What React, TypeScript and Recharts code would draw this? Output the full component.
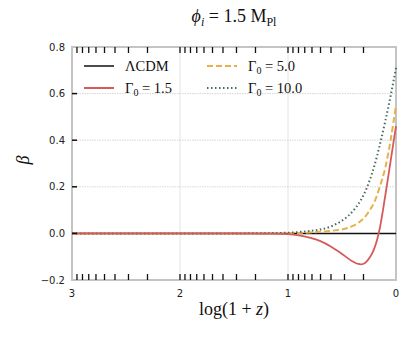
import React from "react";
import { LineChart, Line, XAxis, YAxis, ReferenceLine, ReferenceArea, Legend } from "recharts";

// log(1+z) sample points, right edge is today
const xs = [3, 2.5, 2, 1.5, 1.2, 1.0, 0.9, 0.8, 0.7, 0.6, 0.55, 0.5, 0.45, 0.4, 0.375, 0.35, 0.325, 0.3, 0.275, 0.25, 0.225, 0.2, 0.175, 0.15, 0.1, 0.05, 0];
const lcdm = [0, 0, 0, 0, 0, 0, 0, 0, 0, 0, 0, 0, 0, 0, 0, 0, 0, 0, 0, 0, 0, 0, 0, 0, 0, 0, 0];
const gamma15 = [0, 0, 0, 0, -0.001, -0.003, -0.008, -0.018, -0.033, -0.057, -0.072, -0.088, -0.105, -0.121, -0.127, -0.131, -0.133, -0.13, -0.122, -0.108, -0.089, -0.063, -0.027, 0.022, 0.16, 0.31, 0.46];
const gamma50 = [0, 0, 0, 0, 0, 0.001, 0.002, 0.004, 0.007, 0.011, 0.014, 0.017, 0.023, 0.032, 0.038, 0.045, 0.054, 0.064, 0.078, 0.095, 0.113, 0.135, 0.165, 0.2, 0.28, 0.4, 0.55];
const gamma100 = [0, 0, 0, 0, 0.001, 0.003, 0.006, 0.01, 0.017, 0.03, 0.041, 0.055, 0.072, 0.095, 0.109, 0.125, 0.143, 0.165, 0.19, 0.22, 0.253, 0.29, 0.333, 0.38, 0.48, 0.59, 0.71];

const majorTicks = [3, 2, 1, 0];
const minorTicks = [
  2.954, 2.903, 2.845, 2.778, 2.699, 2.602, 2.477, 2.301,
  1.954, 1.903, 1.845, 1.778, 1.699, 1.602, 1.477, 1.301,
  0.954, 0.903, 0.845, 0.778, 0.699, 0.602, 0.477, 0.301
];
const yTicks = [-0.2, 0, 0.2, 0.4, 0.6, 0.8];
const yInner = [0, 0.2, 0.4, 0.6];
const xGrid = [2, 1];
const yGrid = [0.2, 0.4, 0.6];

const data = xs.map((x, i) => ({
  x,
  lcdm: lcdm[i],
  g15: gamma15[i],
  g50: gamma50[i],
  g100: gamma100[i]
}));

const COLORS = { lcdm: "#111111", g15: "#d65a5a", g50: "#e8b04a", g100: "#4a6a62" };
const FRAME = "#c4c4c4";
const TICK_FONT = "'DejaVu Sans', sans-serif";
const SERIF = "'Liberation Serif', 'DejaVu Serif', serif";

const allXTicks = [...majorTicks, ...minorTicks];
const isInnerMajor = (v: number) => v === 2 || v === 1;

function BottomTick(p: any) {
  const v = p.payload.value;
  const major = majorTicks.includes(v);
  return (
    <g>
      {(!major || isInnerMajor(v)) && (
        <line x1={p.x} x2={p.x} y1={p.y} y2={p.y - 6} stroke="#111" strokeWidth={1.3} />
      )}
      {major && (
        <text x={p.x} y={p.y + 17} textAnchor="middle" fontSize={10} fontFamily={TICK_FONT} fill="#222">
          {v}
        </text>
      )}
    </g>
  );
}

function TopTick(p: any) {
  const v = p.payload.value;
  const major = majorTicks.includes(v);
  if (major && !isInnerMajor(v)) return <g />;
  return <line x1={p.x} x2={p.x} y1={p.y} y2={p.y + 6} stroke="#111" strokeWidth={1.3} />;
}

function LeftTick(p: any) {
  const v = p.payload.value;
  const label = v < 0 ? "\u2212" + Math.abs(v).toFixed(1) : v.toFixed(1);
  return (
    <g>
      {yInner.includes(v) && (
        <line x1={p.x} x2={p.x + 5} y1={p.y} y2={p.y} stroke="#111" strokeWidth={1.5} />
      )}
      <text x={p.x - 7} y={p.y + 3.5} textAnchor="end" fontSize={10} fontFamily={TICK_FONT} fill="#222">
        {label}
      </text>
    </g>
  );
}

function RightTick(p: any) {
  const v = p.payload.value;
  if (!yInner.includes(v)) return <g />;
  return <line x1={p.x} x2={p.x - 5} y1={p.y} y2={p.y} stroke="#111" strokeWidth={1.5} />;
}

const Gamma = ({ v }: { v: string }) => (
  <span>
    Γ<span style={{ fontSize: 10, position: "relative", top: 3 }}>0</span> = {v}
  </span>
);

const legendItems = [
  { key: "lcdm", label: <span>ΛCDM</span>, dash: undefined },
  { key: "g50", label: <Gamma v="5.0" />, dash: "6 3" },
  { key: "g15", label: <Gamma v="1.5" />, dash: undefined },
  { key: "g100", label: <Gamma v="10.0" />, dash: "1.5 2.5" }
];

function LegendBox() {
  return (
    <div style={{ display: "grid", gridTemplateColumns: "123px 120px", fontFamily: SERIF, fontSize: 14.5, color: "#111" }}>
      {legendItems.map((it) => (
        <div key={it.key} style={{ display: "flex", alignItems: "center", height: 22 }}>
          <svg width={30} height={6} style={{ marginRight: 11 }}>
            <line
              x1={0}
              x2={30}
              y1={3}
              y2={3}
              stroke={(COLORS as any)[it.key]}
              strokeWidth={it.key === "lcdm" ? 1.5 : 2}
              strokeDasharray={it.dash}
            />
          </svg>
          {it.label}
        </div>
      ))}
    </div>
  );
}

export default function App() {
  return (
    <div style={{ position: "absolute", left: 0, top: 0, width: 415, height: 338, background: "#fff" }}>
      <div
        style={{
          position: "absolute",
          left: 0,
          width: 468,
          top: 6,
          textAlign: "center",
          fontFamily: SERIF,
          fontSize: 18,
          color: "#111"
        }}
      >
        <i>ϕ</i>
        <i style={{ fontSize: 12, position: "relative", top: 4 }}>i</i> = 1.5 M
        <span style={{ fontSize: 12, position: "relative", top: 4 }}>Pl</span>
      </div>

      <LineChart width={415} height={338} data={data} margin={{ top: 46, right: 18, bottom: 28, left: 20 }}>
        <XAxis
          xAxisId="b"
          type="number"
          dataKey="x"
          domain={[0, 3]}
          reversed
          ticks={allXTicks}
          interval={0}
          tickSize={0}
          tickMargin={0}
          tickLine={false}
          tick={BottomTick}
          axisLine={false}
          height={30}
        />
        <XAxis
          xAxisId="t"
          orientation="top"
          type="number"
          dataKey="x"
          domain={[0, 3]}
          reversed
          ticks={allXTicks}
          interval={0}
          tickSize={0}
          tickMargin={0}
          tickLine={false}
          tick={TopTick}
          axisLine={false}
          height={1}
        />
        <YAxis
          yAxisId="l"
          type="number"
          domain={[-0.2, 0.8]}
          ticks={yTicks}
          interval={0}
          tickSize={0}
          tickMargin={0}
          tickLine={false}
          tick={LeftTick}
          axisLine={false}
          width={52}
        />
        <YAxis
          yAxisId="r"
          orientation="right"
          type="number"
          domain={[-0.2, 0.8]}
          ticks={yTicks}
          interval={0}
          tickSize={0}
          tickMargin={0}
          tickLine={false}
          tick={RightTick}
          axisLine={false}
          width={1}
        />

        {xGrid.map((v) => (
          <ReferenceLine key={"gx" + v} xAxisId="b" yAxisId="l" x={v} stroke="#e4e4e4" strokeWidth={1} />
        ))}
        {yGrid.map((v) => (
          <ReferenceLine key={"gy" + v} xAxisId="b" yAxisId="l" y={v} stroke="#d6d6d6" strokeWidth={1} strokeDasharray="1.5 1" />
        ))}

        <Legend
          content={() => <LegendBox />}
          layout="horizontal"
          align="center"
          verticalAlign="middle"
          wrapperStyle={{ left: 84, top: 55, width: 250 }}
        />

        <Line xAxisId="b" yAxisId="l" type="monotone" dataKey="lcdm" name="ΛCDM" stroke={COLORS.lcdm} strokeWidth={1.5} dot={false} isAnimationActive={false} />
        <Line xAxisId="b" yAxisId="l" type="monotone" dataKey="g50" name="Γ0 = 5.0" stroke={COLORS.g50} strokeWidth={2} strokeDasharray="6 3" dot={false} isAnimationActive={false} />
        <Line xAxisId="b" yAxisId="l" type="monotone" dataKey="g100" name="Γ0 = 10.0" stroke={COLORS.g100} strokeWidth={2} strokeDasharray="1.5 2.5" dot={false} isAnimationActive={false} />
        <Line xAxisId="b" yAxisId="l" type="monotone" dataKey="g15" name="Γ0 = 1.5" stroke={COLORS.g15} strokeWidth={1.8} dot={false} isAnimationActive={false} />

        {/* plot frame */}
        <ReferenceArea xAxisId="b" yAxisId="l" x1={3} x2={0} y1={-0.2} y2={0.8} fill="none" fillOpacity={0} stroke={FRAME} strokeWidth={2} />
      </LineChart>

      <div
        style={{
          position: "absolute",
          left: 0,
          width: 468,
          top: 299,
          textAlign: "center",
          fontFamily: SERIF,
          fontSize: 18,
          color: "#111"
        }}
      >
        log(1 + <i>z</i>)
      </div>
      <div
        style={{
          position: "absolute",
          left: 13,
          top: 150,
          width: 20,
          height: 20,
          lineHeight: "20px",
          textAlign: "center",
          transform: "rotate(-90deg)",
          fontFamily: SERIF,
          fontSize: 18,
          fontStyle: "italic",
          color: "#111"
        }}
      >
        β
      </div>
    </div>
  );
}
